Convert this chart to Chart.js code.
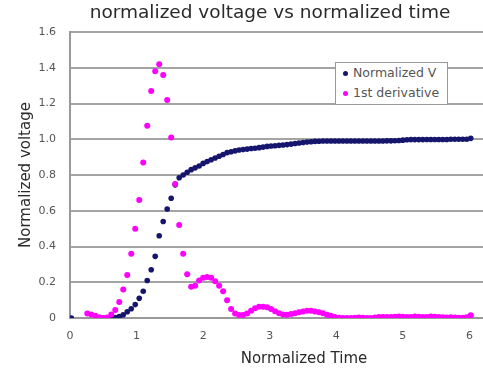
<!DOCTYPE html>
<html lang="en">
<head>
    <meta charset="UTF-8">
    <title>normalized voltage vs normalized time</title>
    <script src="https://cdn.jsdelivr.net/npm/chart.js"></script>
    <style>
        body {
            margin: 0;
            background: #fff;
            font-family: "DejaVu Sans", sans-serif;
        }

        /* the original plot is cropped on the right, so the canvas is wider than the window */
        #wrap {
            position: relative;
            width: 483px;
            height: 372px;
            overflow: hidden;
        }

        .label {
            position: absolute;
            text-align: center;
            white-space: nowrap;
            color: #2a2a2a;
        }

        #chartTitle {
            left: 0;
            top: 1px;
            width: 540px;
            font-size: 18.5px;
            line-height: 22px;
        }

        #xTitle {
            left: 204px;
            top: 349px;
            width: 200px;
            font-size: 15px;
            line-height: 18px;
        }

        #legend {
            position: absolute;
            left: 335px;
            top: 62px;
            width: 111px;
            height: 41px;
            border: 1px solid #999;
            background: #fff;
            font-size: 12.5px;
            color: #555;
        }

        #legend div {
            height: 20px;
            line-height: 20px;
            padding-left: 7px;
            white-space: nowrap;
        }

        #legend span {
            display: inline-block;
            width: 5px;
            height: 5px;
            border-radius: 50%;
            margin-right: 5px;
            vertical-align: middle;
        }
    </style>
</head>
<body>
<div id="wrap">
    <canvas id="voltChart" width="540" height="372"></canvas>
    <div id="chartTitle" class="label"></div>
    <div id="xTitle" class="label"></div>
    <div id="legend"></div>
</div>

<script>
    // normalized time (x) shared by both series
    const times = [
        0.02, 0.08, 0.14, 0.20, 0.26, 0.32, 0.38, 0.44, 0.50, 0.56,
        0.62, 0.68, 0.74, 0.80, 0.86, 0.92, 0.98, 1.04, 1.10, 1.16,
        1.22, 1.28, 1.34, 1.40, 1.46, 1.52, 1.58, 1.64, 1.70, 1.76,
        1.82, 1.88, 1.94, 2.00, 2.06, 2.12, 2.18, 2.24, 2.30, 2.36,
        2.42, 2.48, 2.54, 2.60, 2.66, 2.72, 2.78, 2.84, 2.90, 2.96,
        3.02, 3.08, 3.14, 3.20, 3.26, 3.32, 3.38, 3.44, 3.50, 3.56,
        3.62, 3.68, 3.74, 3.80, 3.86, 3.92, 3.98, 4.04, 4.10, 4.16,
        4.22, 4.28, 4.34, 4.40, 4.46, 4.52, 4.58, 4.64, 4.70, 4.76,
        4.82, 4.88, 4.94, 5.00, 5.06, 5.12, 5.18, 5.24, 5.30, 5.36,
        5.42, 5.48, 5.54, 5.60, 5.66, 5.72, 5.78, 5.84, 5.90, 5.96,
        6.02
    ];

    const normVoltage = [
        0.00, null, null, null, null, null, null, null, 0.00, 0.00,
        0.00, 0.003, 0.008, 0.018, 0.035, 0.052, 0.075, 0.11, 0.15, 0.21,
        0.27, 0.345, 0.46, 0.54, 0.61, 0.67, 0.745, 0.785, 0.80, 0.815,
        0.83, 0.84, 0.85, 0.865, 0.875, 0.885, 0.895, 0.905, 0.915, 0.925,
        0.93, 0.935, 0.94, 0.942, 0.945, 0.948, 0.95, 0.953, 0.956, 0.96,
        0.962, 0.964, 0.966, 0.968, 0.97, 0.973, 0.976, 0.979, 0.982, 0.984,
        0.986, 0.988, 0.989, 0.99, 0.99, 0.99, 0.99, 0.99, 0.99, 0.99,
        0.99, 0.99, 0.99, 0.99, 0.99, 0.99, 0.99, 0.99, 0.99, 0.991,
        0.991, 0.992, 0.993, 0.995, 0.997, 0.998, 0.998, 0.998, 0.998, 0.999,
        0.999, 0.999, 0.999, 0.999, 0.999, 1.0, 1.0, 1.0, 1.0, 1.0,
        1.005
    ];

    const firstDerivative = [
        null, null, null, null, 0.025, 0.02, 0.012, 0.004, 0.0, 0.003,
        0.02, 0.045, 0.09, 0.16, 0.24, 0.36, 0.50, 0.66, 0.87, 1.075,
        1.27, 1.38, 1.42, 1.36, 1.22, 1.01, 0.75, 0.52, 0.36, 0.245,
        0.175, 0.18, 0.21, 0.225, 0.23, 0.225, 0.205, 0.18, 0.15, 0.10,
        0.05, 0.025, 0.017, 0.017, 0.025, 0.04, 0.055, 0.063, 0.063, 0.06,
        0.05, 0.038, 0.026, 0.02, 0.018, 0.022, 0.027, 0.032, 0.037, 0.04,
        0.04, 0.037, 0.032, 0.026, 0.018, 0.012, 0.006, 0.002, 0.0, 0.0,
        0.0, 0.002, 0.003, 0.002, 0.0, 0.0, 0.003, 0.005, 0.006, 0.006,
        0.005, 0.007, 0.008, 0.007, 0.005, 0.006, 0.008, 0.007, 0.005, 0.006,
        0.008, 0.007, 0.006, 0.004, 0.003, 0.004, 0.003, 0.002, 0.001, 0.004,
        0.015
    ];

    const xTicks = [0, 1, 2, 3, 4, 5, 6];
    const seriesNames = ['Normalized V', '1st derivative'];
    const seriesColors = ['#15156e', '#ff00ff'];
    const chartTitle = 'normalized voltage vs normalized time';
    const xTitle = 'Normalized Time';
    const yTitle = 'Normalized voltage';

    // pair times with values, dropping the gaps
    function toPoints(values) {
        const pts = [];
        times.forEach((t, i) => {
            if (values[i] !== null) pts.push({ x: t, y: values[i] });
        });
        return pts;
    }

    document.getElementById('chartTitle').textContent = chartTitle;
    document.getElementById('xTitle').textContent = xTitle;

    // simple html legend sitting inside the plot
    const legend = document.getElementById('legend');
    seriesNames.forEach((name, i) => {
        const row = document.createElement('div');
        row.innerHTML = '<span style="background:' + seriesColors[i] + '"></span>' + name;
        legend.appendChild(row);
    });

    const ctx = document.getElementById('voltChart').getContext('2d');
    new Chart(ctx, {
        type: 'scatter',
        data: {
            datasets: [{
                label: seriesNames[0],
                data: toPoints(normVoltage),
                backgroundColor: seriesColors[0],
                borderColor: seriesColors[0],
                pointRadius: 2.8,
                pointBorderWidth: 0,
                order: 1
            }, {
                label: seriesNames[1],
                data: toPoints(firstDerivative),
                backgroundColor: seriesColors[1],
                borderColor: seriesColors[1],
                pointRadius: 3,
                pointBorderWidth: 0,
                order: 0
            }]
        },
        options: {
            responsive: false,
            animation: false,
            layout: {
                padding: { top: 32, left: 0, right: 0, bottom: 0 }
            },
            plugins: {
                legend: { display: false },
                tooltip: { enabled: false },
                title: { display: false }
            },
            scales: {
                x: {
                    type: 'linear',
                    min: 0,
                    max: 7,
                    afterBuildTicks: scale => {
                        scale.ticks = xTicks.map(v => ({ value: v }));
                    },
                    ticks: {
                        padding: 12,
                        color: '#555',
                        font: { family: 'DejaVu Sans', size: 11 }
                    },
                    grid: { display: false, drawTicks: false },
                    border: { display: true, color: '#999', width: 2 },
                    afterFit: scale => { scale.height = 54; }
                },
                y: {
                    min: 0,
                    max: 1.6,
                    ticks: {
                        stepSize: 0.2,
                        padding: 14,
                        color: '#555',
                        font: { family: 'DejaVu Sans', size: 11 }
                    },
                    grid: { color: '#a4a4a4', lineWidth: 2, drawTicks: false },
                    border: { display: true, color: '#999', width: 2 },
                    title: {
                        display: true,
                        text: yTitle,
                        color: '#2a2a2a',
                        font: { family: 'DejaVu Sans', size: 15 },
                        padding: { top: 17, bottom: 0 }
                    },
                    afterFit: scale => { scale.width = 70; }
                }
            }
        }
    });
</script>
</body>
</html>
